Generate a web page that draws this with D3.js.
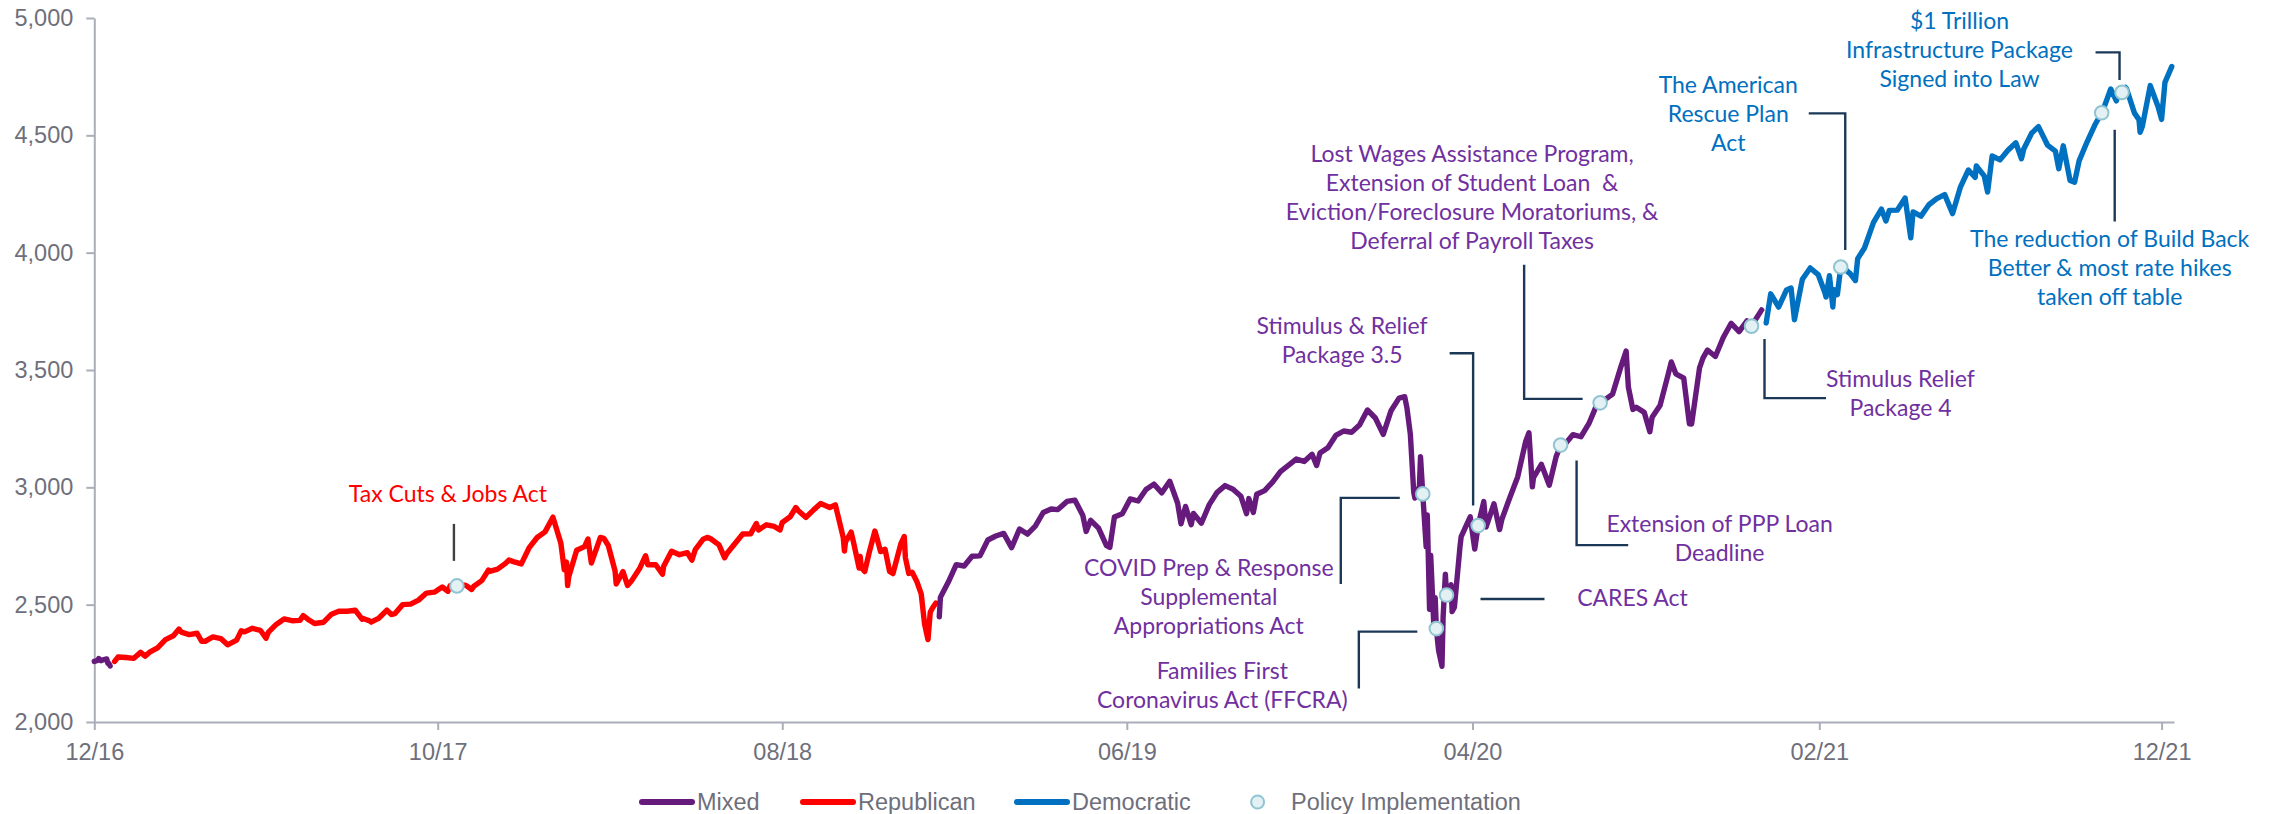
<!DOCTYPE html>
<html>
<head>
<meta charset="utf-8">
<script src="https://cdn.jsdelivr.net/npm/d3@7"></script>
<style>
  body { margin: 0; background: #fff; }
  svg { display: block; }
  .axis text { font-family: "Liberation Sans", Arial, sans-serif; font-size: 23.5px; fill: #6e6f7b; }
  .axis path, .axis line { stroke: #a9aeb8; stroke-width: 2; }
  .note text { font-family: Lato, "Open Sans", sans-serif; font-size: 23px; }
  .legend text { font-family: "Liberation Sans", Arial, sans-serif; font-size: 23.5px; fill: #6e6f7b; }
</style>
</head>
<body>
<svg id="chart" width="2277" height="814"></svg>
<script>
// S&P 500 closes, one array per year
const sp2016 = [["12-16",2258.07],["12-19",2262.53],["12-20",2270.76],["12-21",2265.18],["12-22",2260.96],["12-23",2263.79],["12-27",2268.88],["12-28",2249.92],["12-29",2249.26],["12-30",2238.83]];

const sp2017 = [["01-03",2257.83],["01-06",2276.98],["01-13",2274.64],["01-20",2271.31],["01-26",2296.68],["01-30",2280.90],["02-03",2297.42],["02-10",2316.10],["02-17",2351.16],["02-24",2367.34],["03-01",2395.96],["03-03",2383.12],["03-10",2372.60],["03-17",2378.25],["03-21",2344.02],["03-24",2343.98],["03-31",2362.72],["04-07",2355.54],["04-13",2328.95],["04-21",2348.69],["04-25",2388.61],["04-28",2384.20],["05-05",2399.29],["05-12",2390.90],["05-17",2357.03],["05-19",2381.73],["05-26",2415.82],["06-02",2439.07],["06-09",2431.77],["06-16",2433.15],["06-19",2453.46],["06-23",2438.30],["06-29",2419.70],["07-07",2425.18],["07-14",2459.27],["07-21",2472.54],["07-28",2472.10],["08-04",2476.83],["08-10",2438.21],["08-11",2441.32],["08-17",2430.01],["08-18",2425.55],["08-25",2443.05],["09-01",2476.55],["09-05",2457.85],["09-08",2461.43],["09-15",2500.23],["09-22",2502.22],["09-29",2519.36],["10-06",2549.33],["10-13",2553.17],["10-20",2575.21],["10-25",2557.15],["10-27",2581.07],["11-03",2587.84],["11-10",2582.30],["11-15",2564.62],["11-17",2578.85],["11-24",2602.42],["11-30",2647.58],["12-01",2642.22],["12-08",2651.50],["12-15",2675.81],["12-18",2690.16],["12-22",2683.34],["12-29",2673.61]];

const sp2018 = [["01-05",2743.15],["01-12",2786.24],["01-19",2810.30],["01-26",2872.87],["02-02",2762.13],["02-05",2648.94],["02-07",2681.66],["02-08",2581.00],["02-09",2619.55],["02-16",2732.22],["02-23",2747.30],["02-26",2779.60],["03-01",2677.67],["03-02",2691.25],["03-09",2786.57],["03-12",2783.02],["03-16",2752.01],["03-22",2643.69],["03-23",2588.26],["03-29",2640.87],["04-02",2581.88],["04-06",2604.47],["04-13",2656.30],["04-18",2708.64],["04-20",2670.14],["04-27",2669.91],["05-03",2629.73],["05-04",2663.42],["05-11",2727.72],["05-18",2712.97],["05-25",2721.33],["05-29",2689.86],["06-01",2734.62],["06-08",2779.03],["06-12",2786.85],["06-15",2779.66],["06-22",2754.88],["06-27",2699.63],["06-29",2718.37],["07-06",2759.82],["07-13",2801.31],["07-20",2801.83],["07-25",2846.07],["07-27",2818.82],["08-03",2840.35],["08-10",2833.28],["08-15",2818.37],["08-17",2850.13],["08-24",2874.69],["08-29",2914.04],["08-31",2901.52],["09-07",2871.68],["09-14",2904.98],["09-20",2930.75],["09-28",2913.98],["10-03",2925.51],["10-05",2885.57],["10-10",2785.68],["10-11",2728.37],["10-12",2767.13],["10-17",2809.21],["10-19",2767.78],["10-24",2656.10],["10-25",2705.57],["10-26",2658.69],["10-29",2641.25],["11-02",2723.06],["11-07",2813.89],["11-09",2781.01],["11-12",2726.22],["11-16",2736.27],["11-20",2641.89],["11-23",2632.56],["11-30",2760.17],["12-03",2790.37],["12-04",2700.06],["12-07",2633.08],["12-10",2637.72],["12-14",2599.95],["12-18",2546.16],["12-21",2416.62],["12-24",2351.10],["12-26",2467.70],["12-28",2485.74],["12-31",2506.85]];

const sp2019 = [["01-03",2447.89],["01-04",2531.94],["01-11",2596.26],["01-18",2670.71],["01-25",2664.76],["02-01",2706.53],["02-08",2707.88],["02-15",2775.60],["02-22",2792.67],["03-01",2803.69],["03-08",2743.07],["03-15",2822.48],["03-22",2800.71],["03-29",2834.40],["04-05",2892.74],["04-12",2907.41],["04-18",2905.03],["04-26",2939.88],["05-03",2945.64],["05-10",2881.40],["05-13",2811.87],["05-17",2859.53],["05-24",2826.06],["05-31",2752.06],["06-03",2744.45],["06-07",2873.34],["06-14",2886.98],["06-21",2950.46],["06-28",2941.76],["07-05",2990.41],["07-12",3013.77],["07-19",2976.61],["07-26",3025.86],["08-02",2932.05],["08-05",2844.74],["08-09",2918.65],["08-14",2840.60],["08-16",2888.68],["08-23",2847.11],["08-30",2926.46],["09-06",2978.71],["09-13",3007.39],["09-20",2992.07],["09-27",2961.79],["10-02",2887.61],["10-04",2952.01],["10-08",2893.06],["10-11",2970.27],["10-18",2986.20],["10-25",3022.55],["11-01",3066.91],["11-08",3093.08],["11-15",3120.46],["11-22",3110.29],["11-29",3140.98],["12-03",3093.20],["12-06",3145.91],["12-13",3168.80],["12-20",3221.22],["12-27",3240.02]];

const sp2020 = [["01-03",3234.85],["01-10",3265.35],["01-17",3329.62],["01-24",3295.47],["01-31",3225.52],["02-07",3327.71],["02-14",3380.16],["02-19",3386.15],["02-21",3337.75],["02-24",3225.89],["02-27",2978.76],["02-28",2954.22],["03-03",3003.37],["03-04",3130.12],["03-06",2972.37],["03-09",2746.56],["03-10",2882.23],["03-12",2480.64],["03-13",2711.02],["03-16",2386.13],["03-17",2529.19],["03-18",2398.10],["03-20",2304.92],["03-23",2237.40],["03-24",2447.33],["03-26",2630.07],["03-27",2541.47],["03-31",2584.59],["04-01",2470.50],["04-03",2488.65],["04-08",2749.98],["04-09",2789.82],["04-17",2874.56],["04-21",2736.56],["04-24",2836.74],["04-29",2939.51],["05-01",2830.71],["05-08",2929.80],["05-13",2820.00],["05-15",2863.70],["05-22",2955.45],["05-29",3044.31],["06-05",3193.93],["06-08",3232.39],["06-11",3002.10],["06-12",3041.31],["06-19",3097.74],["06-26",3009.05],["07-02",3130.01],["07-06",3179.72],["07-10",3185.04],["07-17",3224.73],["07-24",3215.63],["07-31",3271.12],["08-07",3351.28],["08-10",3360.47],["08-14",3372.85],["08-21",3397.16],["08-28",3508.01],["09-02",3580.84],["09-04",3426.96],["09-08",3331.84],["09-11",3340.97],["09-18",3319.47],["09-23",3236.92],["09-25",3298.46],["10-02",3348.44],["10-09",3477.13],["10-12",3534.22],["10-16",3483.81],["10-23",3465.39],["10-28",3271.03],["10-30",3269.96],["11-06",3509.44],["11-09",3550.50],["11-13",3585.15],["11-20",3557.54],["11-27",3638.35],["12-04",3699.12],["12-11",3663.46],["12-18",3709.41],["12-22",3687.26],["12-24",3703.06],["12-31",3756.07]];

const sp2021 = [["01-04",3700.65],["01-08",3824.68],["01-15",3768.25],["01-22",3841.47],["01-26",3849.62],["01-29",3714.24],["02-05",3886.83],["02-12",3934.83],["02-19",3906.71],["02-25",3829.34],["02-26",3811.15],["03-01",3901.82],["03-04",3768.47],["03-05",3841.94],["03-08",3821.35],["03-11",3939.34],["03-12",3943.34],["03-18",3915.46],["03-19",3913.10],["03-24",3881.37],["03-26",3974.54],["04-01",4019.87],["04-09",4128.80],["04-16",4185.47],["04-20",4134.94],["04-23",4180.17],["04-30",4181.17],["05-07",4232.60],["05-12",4063.04],["05-14",4173.85],["05-21",4155.86],["05-28",4204.11],["06-04",4229.89],["06-11",4247.44],["06-18",4166.45],["06-25",4280.70],["07-02",4352.34],["07-08",4320.82],["07-09",4369.55],["07-16",4327.16],["07-19",4258.49],["07-23",4411.79],["07-30",4395.26],["08-06",4436.52],["08-13",4468.00],["08-18",4400.27],["08-20",4441.67],["08-27",4509.37],["09-02",4536.95],["09-10",4458.58],["09-17",4432.99],["09-20",4357.73],["09-24",4455.48],["09-30",4307.54],["10-04",4300.46],["10-08",4391.34],["10-15",4471.37],["10-22",4544.90],["10-28",4596.42],["10-29",4605.38],["11-05",4697.53],["11-10",4646.71],["11-12",4682.85],["11-18",4704.54],["11-19",4697.96],["11-26",4594.62],["11-30",4567.00],["12-01",4513.04],["12-03",4538.43],["12-10",4712.02],["12-17",4620.64],["12-20",4568.02],["12-23",4725.79],["12-29",4793.06]];

const yTicks = [2000, 2500, 3000, 3500, 4000, 4500, 5000];
const xTickDates = ["2016-12-16", "2017-10-16", "2018-08-17", "2019-06-18", "2020-04-19", "2021-02-20", "2021-12-20"];

const partyColor = { Mixed: "#661a7c", Republican: "#ff0000", Democratic: "#0070c0" };
const noteColor = { Mixed: "#7030a0", Republican: "#ff0000", Democratic: "#0070c0" };

const policyEvents = [
  { date: "2017-11-02", value: 2580, party: "Republican", label: ["Tax Cuts & Jobs Act"] },
  { date: "2020-03-06", value: 2972, party: "Mixed", label: ["COVID Prep & Response", "Supplemental", "Appropriations Act"] },
  { date: "2020-03-18", value: 2398, party: "Mixed", label: ["Families First", "Coronavirus Act (FFCRA)"] },
  { date: "2020-03-27", value: 2541, party: "Mixed", label: ["CARES Act"] },
  { date: "2020-04-24", value: 2837, party: "Mixed", label: ["Stimulus & Relief", "Package 3.5"] },
  { date: "2020-07-06", value: 3180, party: "Mixed", label: ["Extension of PPP Loan", "Deadline"] },
  { date: "2020-08-10", value: 3360, party: "Mixed", label: ["Lost Wages Assistance Program,", "Extension of Student Loan  &", "Eviction/Foreclosure Moratoriums, &", "Deferral of Payroll Taxes"] },
  { date: "2020-12-22", value: 3687, party: "Mixed", label: ["Stimulus Relief", "Package 4"] },
  { date: "2021-03-11", value: 3939, party: "Democratic", label: ["The American", "Rescue Plan", "Act"] },
  { date: "2021-10-28", value: 4596, party: "Democratic", label: ["The reduction of Build Back", "Better & most rate hikes", "taken off table"] },
  { date: "2021-11-15", value: 4683, party: "Democratic", label: ["$1 Trillion", "Infrastructure Package", "Signed into Law"] }
];

// callout placement, offsets from the marker in px (same order as policyEvents)
const calloutLayout = [
  { tx: -9,    ty: -84,  leader: [[-3, -62], [-3, -25]], leaderColor: "#404040" },
  { tx: -214,  ty: 82,   leader: [[-23, 4], [-82, 4], [-82, 90]] },
  { tx: -214,  ty: 50,   leader: [[-19, 3], [-77.5, 3], [-77.5, 60]] },
  { tx: 186,   ty: 11,   leader: [[34, 4], [98, 4]] },
  { tx: -136,  ty: -192, leader: [[-28.5, -172.4], [-5, -172.4], [-5, -20]] },
  { tx: 159,   ty: 87,   leader: [[16, 15.5], [16, 100], [67.6, 100]] },
  { tx: -128,  ty: -240.6, leader: [[-76, -138], [-76, -4], [-17.5, -4]] },
  { tx: 149,   ty: 61,   leader: [[13, 13], [13, 72], [74.5, 72]] },
  { tx: -112.5, ty: -174, leader: [[4.5, -17], [4.5, -153.6], [-32, -153.6]] },
  { tx: 8,     ty: 134,  leader: [[13, 17], [13, 108.7]] },
  { tx: -162.5, ty: -63, leader: [[-26.5, -40], [-2.5, -40], [-2.5, -12.5]] }
];

const parseDate = d3.timeParse("%Y-%m-%d");
const toSeries = (year, rows) => rows.map(([md, v]) => ({ date: parseDate(`${year}-${md}`), value: v }));

// party control periods
const series = [
  { party: "Mixed", values: toSeries(2016, sp2016) },
  { party: "Republican", values: toSeries(2017, sp2017).concat(toSeries(2018, sp2018)) },
  { party: "Mixed", values: toSeries(2019, sp2019).concat(toSeries(2020, sp2020)) },
  { party: "Democratic", values: toSeries(2021, sp2021) }
];

const svg = d3.select("#chart");

const x = d3.scaleTime()
  .domain([parseDate("2016-12-16"), parseDate("2021-12-31")])
  .range([94.3, 2174]);

const y = d3.scaleLinear()
  .domain([2000, 5000])
  .range([722, 18]);

svg.append("g")
  .attr("class", "axis")
  .attr("transform", "translate(0,722)")
  .call(d3.axisBottom(x)
    .tickValues(xTickDates.map(parseDate))
    .tickFormat(d3.timeFormat("%m/%y"))
    .tickSize(8).tickSizeOuter(0).tickPadding(13));

svg.append("g")
  .attr("class", "axis")
  .attr("transform", "translate(94.3,0)")
  .call(d3.axisLeft(y)
    .tickValues(yTicks)
    .tickFormat(d3.format(","))
    .tickSize(8).tickSizeOuter(0).tickPadding(13));

const line = d3.line()
  .x(d => x(d.date))
  .y(d => y(d.value));

svg.append("g")
  .selectAll("path")
  .data(series)
  .join("path")
    .attr("d", d => line(d.values))
    .attr("fill", "none")
    .attr("stroke", d => partyColor[d.party])
    .attr("stroke-width", 5.4)
    .attr("stroke-linejoin", "round")
    .attr("stroke-linecap", "round");

// callouts
const notes = svg.append("g").attr("class", "note");

policyEvents.forEach((ev, i) => {
  const lay = calloutLayout[i];
  const cx = x(parseDate(ev.date));
  const cy = y(ev.value);

  notes.append("path")
    .attr("d", d3.line()(lay.leader.map(([dx, dy]) => [cx + dx, cy + dy])))
    .attr("fill", "none")
    .attr("stroke", lay.leaderColor || "#1c3857")
    .attr("stroke-width", 2.4);

  const t = notes.append("text")
    .attr("text-anchor", "middle")
    .attr("fill", noteColor[ev.party]);
  ev.label.forEach((s, k) => {
    t.append("tspan")
      .attr("x", cx + lay.tx)
      .attr("y", cy + lay.ty + k * 29)
      .attr("xml:space", "preserve")
      .text(s);
  });
});

svg.append("g")
  .selectAll("circle")
  .data(policyEvents)
  .join("circle")
    .attr("cx", d => x(parseDate(d.date)))
    .attr("cy", d => y(d.value))
    .attr("r", 6.8)
    .attr("fill", "#e4f1f4")
    .attr("stroke", "#8fc4d0")
    .attr("stroke-width", 2);

// legend
const legendItems = [
  { name: "Mixed", type: "line", color: partyColor.Mixed, x: 639 },
  { name: "Republican", type: "line", color: partyColor.Republican, x: 800 },
  { name: "Democratic", type: "line", color: partyColor.Democratic, x: 1014 },
  { name: "Policy Implementation", type: "dot", x: 1250 }
];

const legend = svg.append("g").attr("class", "legend").attr("transform", "translate(0,802)");
legendItems.forEach(it => {
  const g = legend.append("g").attr("transform", `translate(${it.x},0)`);
  if (it.type === "line") {
    g.append("line").attr("x1", 3).attr("x2", 53).attr("y1", 0).attr("y2", 0)
      .attr("stroke", it.color).attr("stroke-width", 6).attr("stroke-linecap", "round");
    g.append("text").attr("x", 58).attr("y", 0).attr("dy", "0.35em").text(it.name);
  } else {
    g.append("circle").attr("cx", 7.6).attr("cy", 0).attr("r", 6.5)
      .attr("fill", "#e4f1f4").attr("stroke", "#8fc4d0").attr("stroke-width", 2);
    g.append("text").attr("x", 41).attr("y", 0).attr("dy", "0.35em").text(it.name);
  }
});
</script>
</body>
</html>
